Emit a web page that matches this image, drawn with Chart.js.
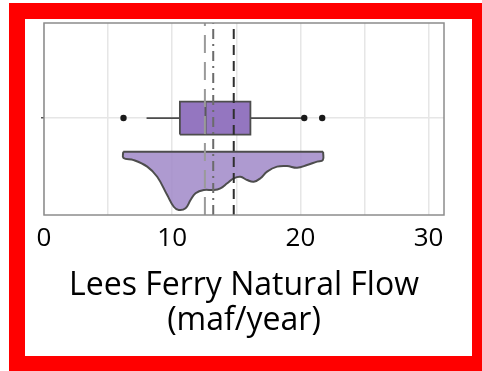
<!DOCTYPE html>
<html>
<head>
<meta charset="utf-8">
<script src="https://cdn.jsdelivr.net/npm/chart.js@4"></script>
<style>
  html, body { margin: 0; padding: 0; overflow: hidden; background: #fff; width: 482px; height: 371px; }
  #frame { position: absolute; left: 9px; top: 3px; width: 479px; height: 369px; box-sizing: border-box; border: 16px solid #ff0000; }
  #wrap { position: absolute; left: 25px; top: 19px; width: 447px; height: 337px; }
</style>
</head>
<body>
<div id="frame"></div>
<div id="wrap"><canvas id="chart"></canvas></div>
<script>
// Lees Ferry natural flow (maf/year) - raincloud style summary
const xTicks = [0, 10, 20, 30];

// box plot stats
const whiskerLow = 8.0;
const q1 = 10.6;
const median = 12.6;
const q3 = 16.1;
const whiskerHigh = 20.3;
const outliers = [6.2, 20.3, 21.7];

// reference lines
const refLines = [12.55, 13.2, 14.8];

// density (drawn hanging below the box)
const densityX = [6.18, 6.2, 7.0, 8.05, 8.83, 9.61, 10.12, 10.51, 11.04, 11.43, 11.82, 12.46, 13.24, 13.76, 14.29, 14.8, 15.32, 15.85, 16.36, 16.88, 17.4, 18.18, 18.96, 19.74, 20.52, 21.3, 21.75, 21.77];
const densityY = [3.3, 2.97, 2.86, 2.52, 1.99, 1.04, 0.43, 0.26, 0.35, 0.78, 1.13, 1.3, 1.3, 1.39, 1.65, 1.91, 1.99, 1.82, 1.73, 1.91, 2.26, 2.52, 2.55, 2.46, 2.6, 2.78, 2.86, 3.3];

const densityTop = 3.3;
const boxCenter = 5.05;
const boxHalf = 0.86;

const edge = '#4d4d4d';

const pts = (xs, ys) => xs.map((x, i) => ({ x: x, y: ys[i] }));
const vline = (x, y0, y1) => [{ x: x, y: y0 }, { x: x, y: y1 }];

const frameBox = {
  id: 'frameBox',
  afterDraw(chart) {
    const a = chart.chartArea;
    const c = chart.ctx;
    c.save();
    c.strokeStyle = '#8c8c8c';
    c.lineWidth = 1.5;
    c.strokeRect(a.left, a.top, a.right - a.left, a.bottom - a.top);
    c.restore();
  }
};

const lineBase = { type: 'line', pointRadius: 0, showLine: true, fill: false, tension: 0 };

new Chart(document.getElementById('chart'), {
  type: 'scatter',
  data: {
    datasets: [
      Object.assign({}, lineBase, {
        data: vline(refLines[0], 0, 10), borderColor: '#9a9a9a', borderWidth: 2,
        borderDash: [18, 9], order: 0
      }),
      Object.assign({}, lineBase, {
        data: vline(refLines[1], 0, 10), borderColor: '#6b6b6b', borderWidth: 2,
        borderDash: [10, 5, 2, 5], order: 0
      }),
      Object.assign({}, lineBase, {
        data: vline(refLines[2], 0, 10), borderColor: '#2e2e2e', borderWidth: 2,
        borderDash: [10, 6], order: 0
      }),
      {
        type: 'scatter',
        data: outliers.map(v => ({ x: v, y: boxCenter })),
        pointRadius: 3.2, pointBackgroundColor: '#1a1a1a', pointBorderWidth: 0,
        order: 1
      },
      Object.assign({}, lineBase, {
        data: vline(median, boxCenter - boxHalf, boxCenter + boxHalf),
        borderColor: '#5a5a5a', borderWidth: 2, order: 2
      }),
      Object.assign({}, lineBase, {
        data: [
          { x: q1, y: boxCenter - boxHalf }, { x: q3, y: boxCenter - boxHalf },
          { x: q3, y: boxCenter + boxHalf }, { x: q1, y: boxCenter + boxHalf },
          { x: q1, y: boxCenter - boxHalf }
        ],
        borderColor: edge, borderWidth: 1.8, backgroundColor: '#9476c0',
        fill: 'shape', order: 3
      }),
      Object.assign({}, lineBase, {
        data: [{ x: whiskerLow, y: boxCenter }, { x: q1, y: boxCenter }],
        borderColor: edge, borderWidth: 1.8, order: 4
      }),
      Object.assign({}, lineBase, {
        data: [{ x: q3, y: boxCenter }, { x: whiskerHigh, y: boxCenter }],
        borderColor: edge, borderWidth: 1.8, order: 4
      }),
      Object.assign({}, lineBase, {
        data: [{ x: densityX[0], y: densityTop }, { x: densityX[densityX.length - 1], y: densityTop }],
        borderColor: edge, borderWidth: 2, order: 5
      }),
      Object.assign({}, lineBase, {
        data: pts(densityX, densityY),
        borderColor: edge, borderWidth: 2, tension: 0.4,
        backgroundColor: 'rgba(160, 136, 200, 0.85)',
        fill: { value: densityTop }, order: 6
      })
    ]
  },
  options: {
    responsive: true,
    maintainAspectRatio: false,
    animation: false,
    layout: { padding: { left: 16, right: 28, top: 4, bottom: 0 } },
    plugins: { legend: { display: false }, tooltip: { enabled: false } },
    scales: {
      x: {
        type: 'linear', min: 0, max: 31.2,
        afterBuildTicks: (s) => { s.ticks = [0, 5, 10, 15, 20, 25, 30].map(v => ({ value: v })); },
        afterFit: (s) => { s.height = 141; },
        ticks: {
          color: '#000', padding: 8,
          font: { family: 'Open Sans', size: 26 },
          callback: (v) => xTicks.includes(v) ? String(v) : ''
        },
        grid: { color: '#e6e6e6', lineWidth: 1.5, drawTicks: false },
        border: { display: false },
        title: {
          display: true, text: ['Lees Ferry Natural Flow', '(maf/year)'], color: '#000',
          font: { family: 'Open Sans', size: 32, lineHeight: '35px' },
          padding: { top: 0, bottom: 18 }
        }
      },
      y: {
        type: 'linear', min: 0, max: 10,
        afterBuildTicks: (s) => { s.ticks = [{ value: boxCenter }]; },
        ticks: { display: false },
        grid: { color: '#e6e6e6', lineWidth: 1.5, drawTicks: true, tickLength: 3, tickColor: '#555' },
        border: { display: false }
      }
    }
  },
  plugins: [frameBox]
});
</script>
</body>
</html>
